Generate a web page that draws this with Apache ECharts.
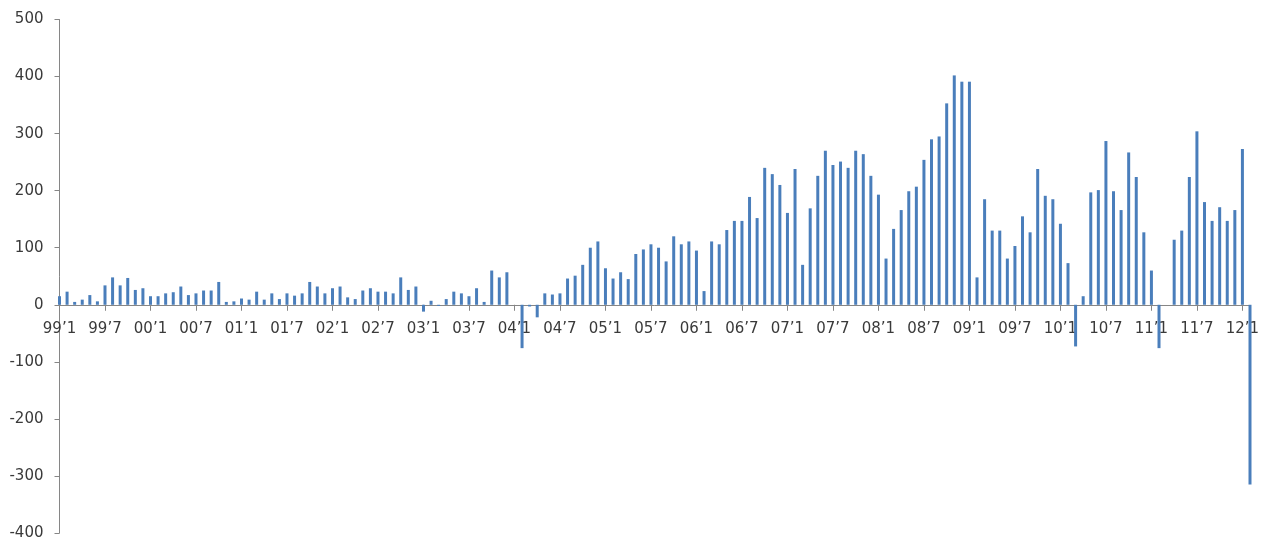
<!DOCTYPE html>
<html>
<head>
<meta charset="utf-8">
<script src="https://cdn.jsdelivr.net/npm/echarts@6/dist/echarts.min.js"></script>
<style>
html,body{margin:0;padding:0;background:#fff;}
#c{width:1267px;height:540px;}
</style>
</head>
<body>
<div id="c"></div>
<script>
// Monthly values, 1999'1 .. 2012'2
var v1999 = [15, 23, 5, 9, 17, 6, 34, 48, 34, 47, 26, 29];
var v2000 = [15, 15, 20, 22, 32, 17, 20, 25, 25, 40, 5, 6];
var v2001 = [11, 9, 23, 9, 20, 10, 20, 16, 20, 40, 32, 20];
var v2002 = [29, 32, 13, 10, 25, 29, 23, 23, 20, 48, 26, 32];
var v2003 = [-12, 7, -2, 10, 23, 20, 15, 29, 5, 60, 48, 57];
var v2004 = [0, -76, -3, -22, 20, 18, 20, 46, 51, 70, 100, 111];
var v2005 = [64, 46, 57, 45, 89, 97, 106, 100, 76, 120, 106, 111];
var v2006 = [95, 24, 111, 106, 131, 147, 147, 189, 152, 240, 229, 210];
var v2007 = [161, 238, 70, 169, 226, 270, 245, 251, 240, 270, 264, 226];
var v2008 = [193, 81, 133, 166, 199, 207, 254, 290, 295, 353, 402, 391];
var v2009 = [391, 48, 185, 130, 130, 81, 103, 155, 127, 238, 191, 185];
var v2010 = [142, 73, -73, 15, 197, 201, 287, 199, 166, 267, 224, 127];
var v2011 = [60, -76, 0, 114, 130, 224, 304, 180, 147, 171, 147, 166];
var v2012 = [273, -315];

var yearLabels = ['99','00','01','02','03','04','05','06','07','08','09','10','11','12'];
var yearValues = [v1999, v2000, v2001, v2002, v2003, v2004, v2005, v2006, v2007, v2008, v2009, v2010, v2011, v2012];

var categories = [];
var values = [];
for (var y = 0; y < yearValues.length; y++) {
  for (var m = 0; m < yearValues[y].length; m++) {
    categories.push(yearLabels[y] + '\u2019' + (m + 1));
    values.push(yearValues[y][m]);
  }
}

var yTicks = { min: -400, max: 500, step: 100 };

var gridTop = 19.5, gridBottom = 7, H = 540;
var plotH = H - gridTop - gridBottom;
// distance from the grid bottom up to the value 0, from the y scale
var zeroOffset = plotH * (0 - yTicks.min) / (yTicks.max - yTicks.min);

var chart = echarts.init(document.getElementById('c'));
chart.setOption({
  animation: false,
  backgroundColor: '#ffffff',
  grid: { left: 59.5, right: 17, top: gridTop, bottom: gridBottom, containLabel: false, outerBoundsMode: 'none' },
  xAxis: {
    type: 'category',
    data: categories,
    boundaryGap: false,
    position: 'bottom',
    offset: -zeroOffset,
    axisLine: { show: true, onZero: false, lineStyle: { color: '#868686', width: 1 } },
    axisTick: { show: true, interval: 5, length: 6, lineStyle: { color: '#868686' } },
    axisLabel: { show: true, interval: 5, margin: 17, fontFamily: 'DejaVu Sans', fontSize: 15, color: '#3a3a3a' },
    splitLine: { show: false }
  },
  yAxis: {
    type: 'value',
    min: yTicks.min,
    max: yTicks.max,
    interval: yTicks.step,
    axisLine: { show: true, lineStyle: { color: '#868686', width: 1 } },
    axisTick: { show: true, length: 5, lineStyle: { color: '#868686' } },
    axisLabel: { margin: 16, fontFamily: 'DejaVu Sans', fontSize: 15, color: '#3a3a3a' },
    splitLine: { show: false }
  },
  series: [{
    type: 'bar',
    data: values,
    barWidth: 3,
    itemStyle: { color: '#4a7ebb' }
  }]
});
</script>
</body>
</html>
